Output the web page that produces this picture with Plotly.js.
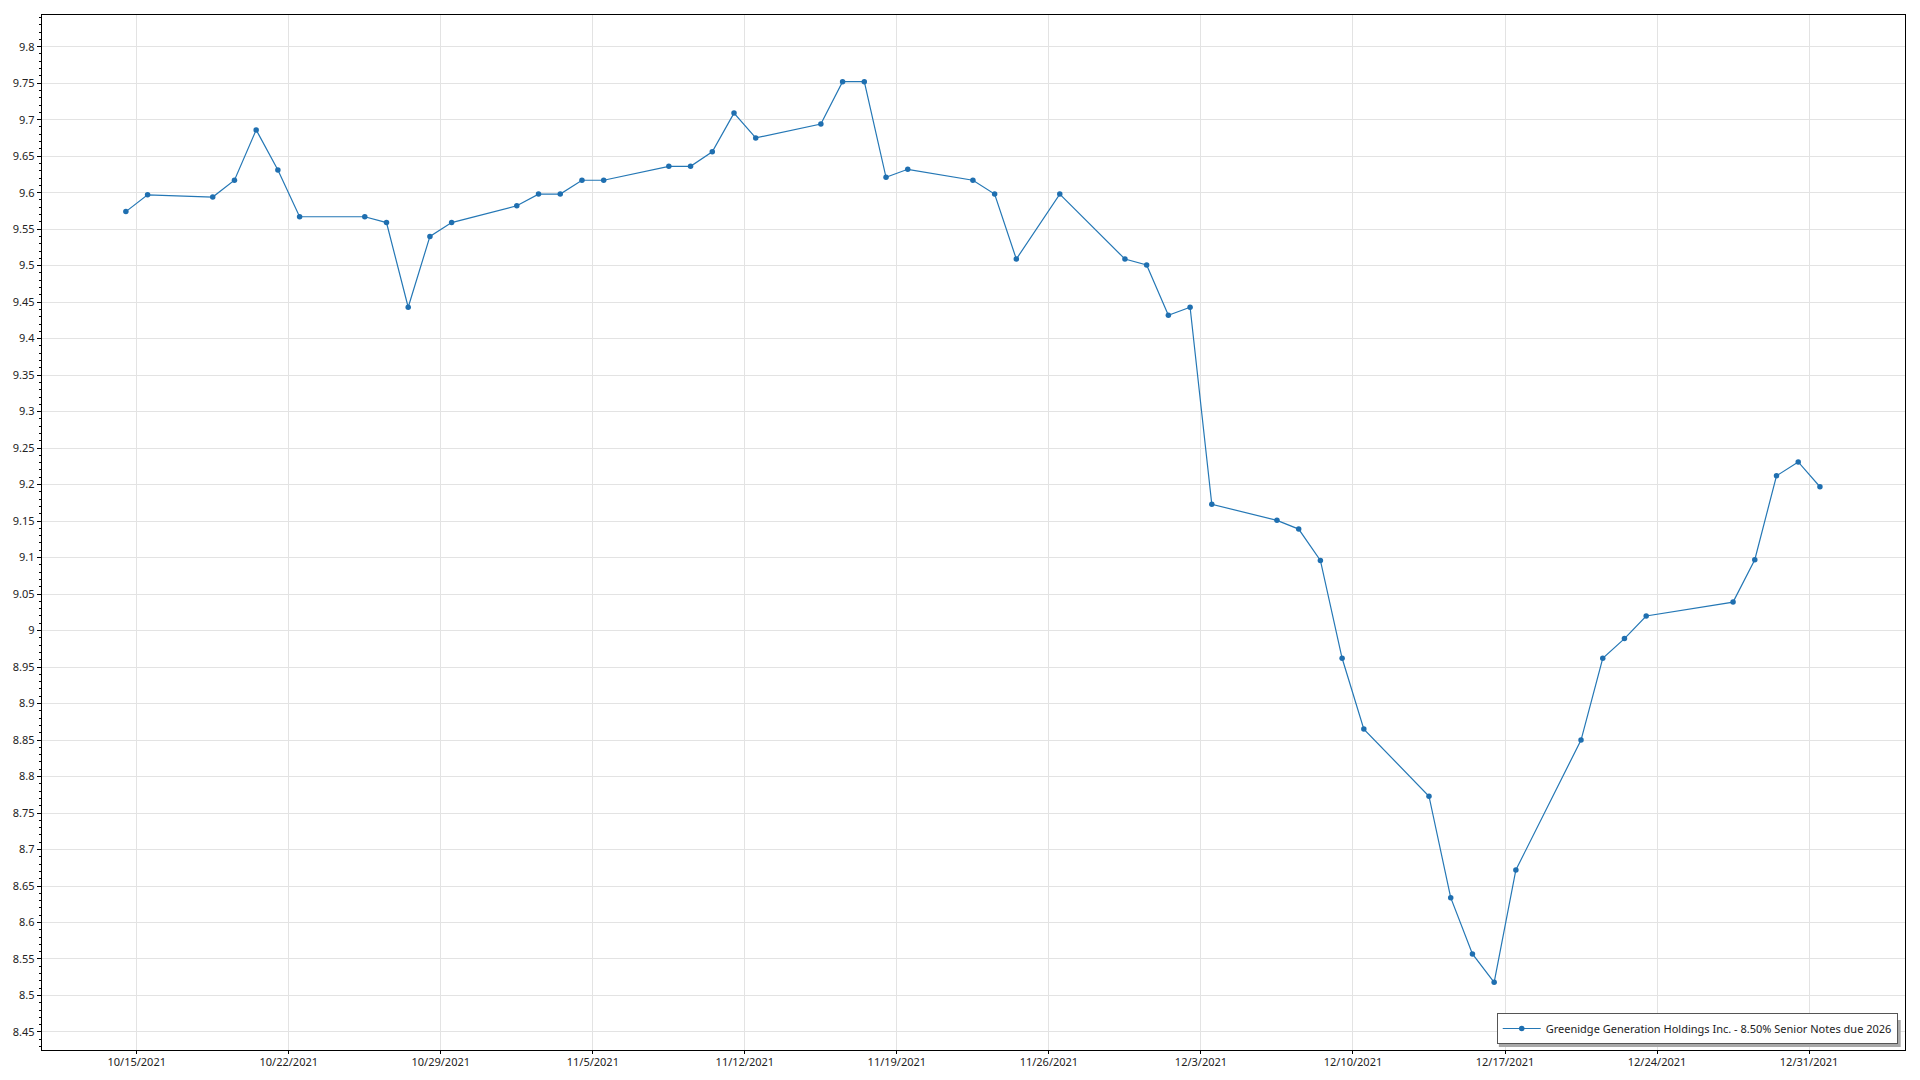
<!DOCTYPE html>
<html>
<head>
<meta charset="utf-8">
<script src="https://cdn.plot.ly/plotly-3.0.1.min.js"></script>
<style>
  html, body { margin: 0; padding: 0; background: #ffffff; }
  #chart { width: 1920px; height: 1080px; }
</style>
</head>
<body>
<div id="chart"></div>
<script>
// Trading dates (points sit at mid-day of each date)
const dates = [
  "2021-10-14","2021-10-15","2021-10-18","2021-10-19","2021-10-20","2021-10-21","2021-10-22",
  "2021-10-25","2021-10-26","2021-10-27","2021-10-28","2021-10-29",
  "2021-11-01","2021-11-02","2021-11-03","2021-11-04","2021-11-05",
  "2021-11-08","2021-11-09","2021-11-10","2021-11-11","2021-11-12",
  "2021-11-15","2021-11-16","2021-11-17","2021-11-18","2021-11-19",
  "2021-11-22","2021-11-23","2021-11-24","2021-11-26",
  "2021-11-29","2021-11-30","2021-12-01","2021-12-02","2021-12-03",
  "2021-12-06","2021-12-07","2021-12-08","2021-12-09","2021-12-10",
  "2021-12-13","2021-12-14","2021-12-15","2021-12-16","2021-12-17",
  "2021-12-20","2021-12-21","2021-12-22","2021-12-23",
  "2021-12-27","2021-12-28","2021-12-29","2021-12-30","2021-12-31"
];
const prices = [
  9.574, 9.597, 9.594, 9.617, 9.686, 9.631, 9.567,
  9.567, 9.559, 9.443, 9.540, 9.559,
  9.582, 9.598, 9.598, 9.617, 9.617,
  9.636, 9.636, 9.656, 9.709, 9.675,
  9.694, 9.752, 9.752, 9.621, 9.632,
  9.617, 9.598, 9.509, 9.598,
  9.509, 9.501, 9.432, 9.443, 9.173,
  9.151, 9.139, 9.096, 8.962, 8.865,
  8.773, 8.634, 8.557, 8.518, 8.672,
  8.850, 8.962, 8.989, 9.020,
  9.039, 9.097, 9.212, 9.231, 9.197
];
const seriesName = "Greenidge Generation Holdings Inc. - 8.50% Senior Notes due 2026";

const xs = dates.map(d => d + " 12:00");

const trace = {
  x: xs,
  y: prices,
  type: "scatter",
  mode: "lines+markers",
  name: seriesName,
  line: { color: "#2477b5", width: 1.2 },
  marker: { color: "#1f6fb0", size: 5.5, symbol: "circle" }
};

const fontFam = "'Noto Sans', 'Open Sans', sans-serif";

const layout = {
  width: 1920,
  height: 1080,
  paper_bgcolor: "#ffffff",
  plot_bgcolor: "#ffffff",
  margin: { l: 42.3, r: 14.7, t: 15.3, b: 29.7, pad: 0 },
  showlegend: true,
  font: { family: fontFam, size: 11, color: "#222222" },
  xaxis: {
    type: "date",
    range: ["2021-10-10 15:20", "2022-01-04 10:00"],
    tick0: "2021-10-15",
    dtick: 7 * 86400000,
    tickformat: "%-m/%-d/%Y",
    showgrid: true,
    gridcolor: "#e3e3e3",
    gridwidth: 1,
    zeroline: false,
    showline: true,
    linecolor: "#000000",
    linewidth: 1.3,
    mirror: true,
    ticks: "outside",
    ticklen: 3,
    ticklabelstandoff: -2,
    tickcolor: "#000000",
    tickfont: { family: fontFam, size: 11, color: "#222222" }
  },
  yaxis: {
    range: [8.4253, 9.8434],
    tick0: 8.45,
    dtick: 0.05,
    showgrid: true,
    gridcolor: "#e3e3e3",
    gridwidth: 1,
    zeroline: false,
    showline: true,
    linecolor: "#000000",
    linewidth: 1.3,
    mirror: true,
    ticks: "outside",
    ticklen: 4,
    tickcolor: "#000000",
    tickfont: { family: fontFam, size: 11, color: "#222222" },
    minor: { dtick: 0.01, ticks: "outside", ticklen: 2, tickcolor: "#000000", showgrid: false }
  },
  legend: {
    x: 0.9961,
    y: 0.0058,
    xanchor: "right",
    yanchor: "bottom",
    bgcolor: "#ffffff",
    bordercolor: "#555555",
    borderwidth: 1,
    font: { family: fontFam, size: 11, color: "#222222" },
    itemwidth: 38,
    tracegroupgap: 0
  },
  shapes: [
    {
      type: "rect",
      xref: "paper", yref: "paper",
      x0: 0.7820, x1: 0.9977, y0: 0.0029, y1: 0.0290,
      fillcolor: "#a8a8a8",
      line: { width: 0 },
      layer: "above"
    }
  ]
};

Plotly.newPlot("chart", [trace], layout, { displayModeBar: false, staticPlot: true });
</script>
</body>
</html>
